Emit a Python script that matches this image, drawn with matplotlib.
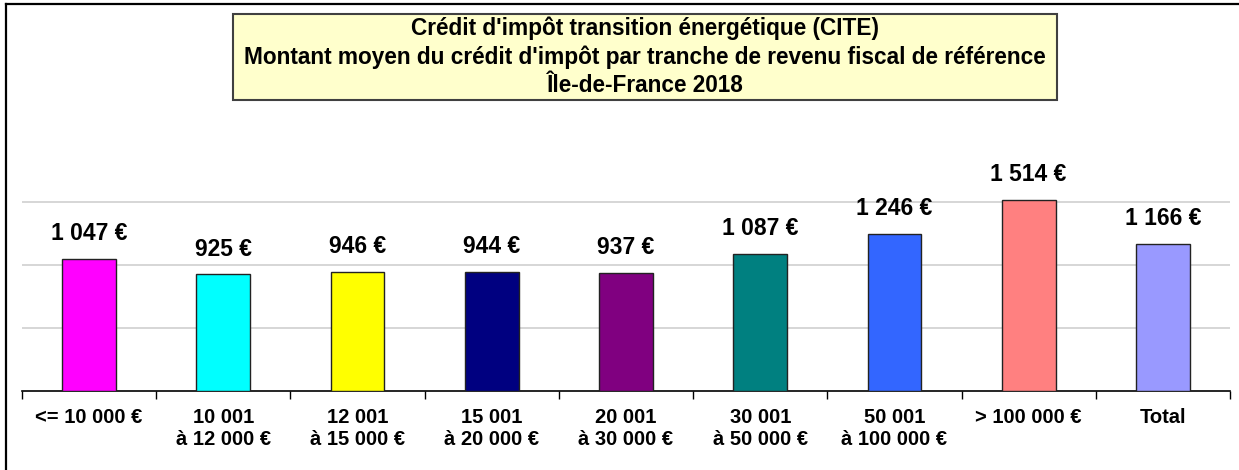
import matplotlib
matplotlib.use("Agg")
import matplotlib.pyplot as plt
from matplotlib.patches import Rectangle
from matplotlib.lines import Line2D
import numpy as np

plt.rcParams['font.family'] = ['Liberation Sans', 'DejaVu Sans']

categories = ["<= 10 000 €", "10 001\nà 12 000 €", "12 001\nà 15 000 €",
              "15 001\nà 20 000 €", "20 001\nà 30 000 €", "30 001\nà 50 000 €",
              "50 001\nà 100 000 €", "> 100 000 €", "Total"]
values = [1047, 925, 946, 944, 937, 1087, 1246, 1514, 1166]
colors = ["#FF00FF", "#00FFFF", "#FFFF00", "#000080", "#800080",
          "#008080", "#3366FF", "#FF8080", "#9999FF"]
title_lines = ["Crédit d'impôt transition énergétique (CITE)",
               "Montant moyen du crédit d'impôt par tranche de revenu fiscal de référence",
               "Île-de-France 2018"]

W, H = 1239, 470
fig = plt.figure(figsize=(W / 100, H / 100), dpi=100)

# plot area in pixels (from top-left)
left, right, top, bottom = 22, 1230, 139, 391
ax = fig.add_axes([left / W, 1 - bottom / H, (right - left) / W, (bottom - top) / H])

x = np.arange(len(values))
ax.bar(x, values, width=0.4, color=colors, edgecolor="#222222", linewidth=1, zorder=3)

for xi, v in zip(x, values):
    label = f"{v:,}".replace(",", " ") + " €"
    ax.annotate(label, (xi, v), xytext=(0, 10), textcoords="offset points",
                ha="center", va="bottom", fontsize=16.5, fontweight="bold")

ax.set_xlim(-0.5, len(values) - 0.5)
ax.set_ylim(0, 2000)
ax.set_yticks([500, 1000, 1500])
ax.yaxis.grid(True, color="#D0D0D0", linewidth=1.2, zorder=0)
ax.tick_params(axis="y", left=False, labelleft=False)

ax.set_xticks(x)
ax.set_xticklabels(categories, fontsize=14.5, fontweight="bold")
ax.tick_params(axis="x", which="major", length=0, pad=12)
ax.set_xticks(np.arange(len(values) + 1) - 0.5, minor=True)
ax.tick_params(axis="x", which="minor", length=6, width=1, color="black")

for s in ["top", "left", "right"]:
    ax.spines[s].set_visible(False)
ax.spines["bottom"].set_linewidth(1.2)

# outer frame (left and top visible)
fig.add_artist(Line2D([6 / W, 6 / W], [0, 1 - 4 / H], color="black", linewidth=1.6,
                      transform=fig.transFigure))
fig.add_artist(Line2D([6 / W, 1], [1 - 4 / H, 1 - 4 / H], color="black", linewidth=1.6,
                      transform=fig.transFigure))

# title box
bx0, bx1, by0, by1 = 233, 1057, 14, 100
fig.add_artist(Rectangle((bx0 / W, 1 - by1 / H), (bx1 - bx0) / W, (by1 - by0) / H,
                         facecolor="#FFFFCC", edgecolor="#404040", linewidth=1.5,
                         transform=fig.transFigure))
fig.text((bx0 + bx1) / 2 / W, 1 - (by0 + by1) / 2 / H, "\n".join(title_lines),
         ha="center", va="center", fontsize=16.3, fontweight="bold", linespacing=1.28)

fig.savefig("out.png", dpi=100)
